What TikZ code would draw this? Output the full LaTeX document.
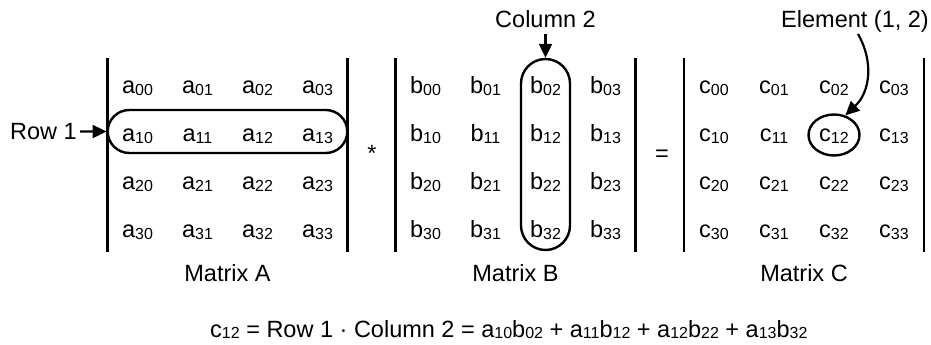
\documentclass[tikz,border=0pt]{standalone}
\usepackage{fontspec}
\setmainfont{Liberation Sans}
\usetikzlibrary{arrows.meta,shapes.geometric}
\newcommand{\msub}[2]{#1\raisebox{-1.8pt}{\fontsize{16}{18}\selectfont #2}}
\begin{document}
\begin{tikzpicture}[x=1pt,y=-1pt,
  ent/.style={anchor=base,inner sep=0pt,font=\fontsize{23.5}{28}\selectfont},
  lbl/.style={anchor=base,inner sep=0pt,font=\fontsize{23.5}{28}\selectfont},
  bar/.style={line width=2.7pt},
  hl/.style={draw,line width=2.4pt,inner sep=0pt},
  arr/.style={line width=2.2pt,-{Triangle[width=13pt,length=14pt]}}]
\useasboundingbox (0,0) rectangle (931,345);
% matrices
\foreach \m/\cx in {a/227.5,b/515.5,c/804} {
  \foreach \r [count=\ri from 0] in {93.5,141.5,189.5,237.5} {
    \foreach \c in {0,1,2,3} {
      \node[ent] (\m\ri\c) at (\cx-90+60*\c,\r) {\msub{\m}{\ri\c}};
    }
  }
  \draw[bar] (\cx-120,58) -- (\cx-120,252);
  \draw[bar] (\cx+120,58) -- (\cx+120,252);
}
% highlights
\node[hl,rounded corners=21.5pt,minimum width=239.5pt,minimum height=43pt] (row1) at (227.5,131.5) {};
\node[hl,rounded corners=24.5pt,minimum width=49pt,minimum height=191pt] (col2) at (545.5,154.5) {};
\node[hl,ellipse,minimum width=51pt,minimum height=41pt] (el12) at (834,135) {};
% labels and arrows
\node[lbl,anchor=base east] (rowlbl) at (77,139.5) {Row 1};
\draw[arr] ([xshift=3pt]rowlbl.east) -- (row1.west);
\node[lbl] (collbl) at (545.5,28) {Column 2};
\draw[arr] ([yshift=-6pt]collbl.south) -- (col2.north);
\node[lbl] (ellbl) at (855,28) {Element (1, 2)};
\coordinate (elstart) at (858,34);
\draw[arr] (elstart) .. controls (874,62) and (870,92) .. (el12.60);
% operators
\node[lbl] (times) at (372,161) {*};
\node[lbl] (equals) at (662,161) {=};
% matrix names
\node[lbl] (labA) at (227.5,281.5) {Matrix A};
\node[lbl] (labB) at (515.5,281.5) {Matrix B};
\node[lbl] (labC) at (804,281.5) {Matrix C};
% equation
\node[lbl,anchor=base west] (eqn) at (210,337) {\msub{c}{12} = Row 1 · Column 2 = \msub{a}{10}\msub{b}{02} + \msub{a}{11}\msub{b}{12} + \msub{a}{12}\msub{b}{22} + \msub{a}{13}\msub{b}{32}};
\end{tikzpicture}
\end{document}
